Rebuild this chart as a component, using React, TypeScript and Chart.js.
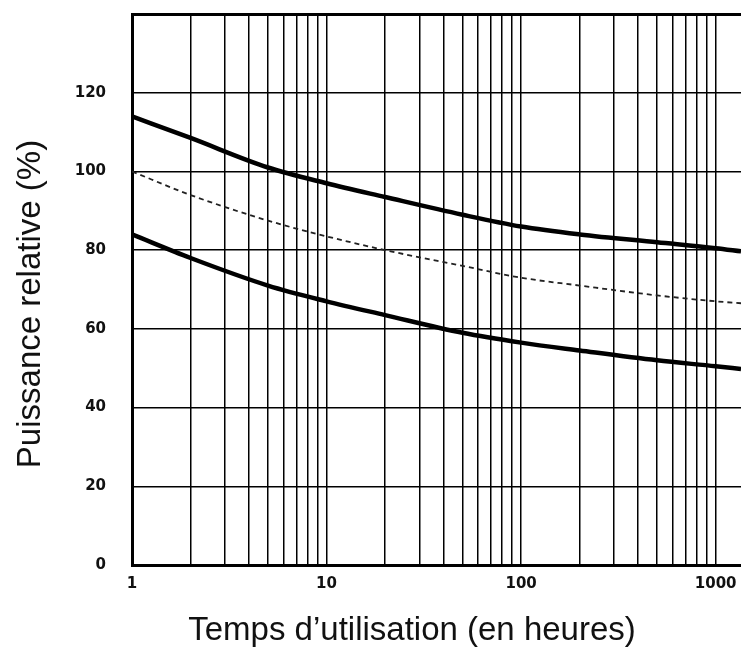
import React, { useEffect, useRef } from "react";
import { Chart, registerables } from "chart.js";

Chart.register(...registerables);

const hours = [1, 2, 5, 10, 20, 50, 100, 200, 500, 1000, 1350];
const upperCurve = [114, 108.5, 101, 97, 93.5, 89, 86, 84, 82, 80.5, 79.7];
const nominalCurve = [100, 94, 87.5, 83.5, 80, 76, 73, 71, 68.5, 67, 66.5];
const lowerCurve = [84, 78, 71, 67, 63.5, 59, 56.5, 54.5, 52, 50.5, 49.8];
const xTickValues = [1, 2, 3, 4, 5, 6, 7, 8, 9, 10, 20, 30, 40, 50, 60, 70, 80, 90, 100, 200, 300, 400, 500, 600, 700, 800, 900, 1000];
const xLabelled = [1, 10, 100, 1000];
const xTitle = "Temps d\u2019utilisation (en heures)";
const yTitle = "Puissance relative (%)";

const tickFont = { family: "'DejaVu Sans', sans-serif", size: 15, weight: "bold" };

export default function App() {
  const ref = useRef<HTMLCanvasElement | null>(null);
  useEffect(() => {
    if (!ref.current) return;
    const titles = {
      id: "titles",
      afterDraw(chart: any) {
        const ctx = chart.ctx;
        ctx.save();
        ctx.fillStyle = "#111";
        ctx.font = "33px 'Liberation Sans', Arial, sans-serif";
        ctx.textAlign = "center";
        ctx.textBaseline = "middle";
        ctx.fillText(xTitle, 412, 631);
        ctx.translate(31, 304);
        ctx.rotate(-Math.PI / 2);
        ctx.fillText(yTitle, 0, 0);
        ctx.restore();
      },
    };
    const chart = new Chart(ref.current, {
      type: "line",
      data: {
        labels: hours,
        datasets: [
          { data: upperCurve, borderColor: "#000", borderWidth: 4.5, pointRadius: 0, cubicInterpolationMode: "monotone" },
          { data: nominalCurve, borderColor: "#222", borderWidth: 1.8, borderDash: [5, 4], pointRadius: 0, cubicInterpolationMode: "monotone" },
          { data: lowerCurve, borderColor: "#000", borderWidth: 4.5, pointRadius: 0, cubicInterpolationMode: "monotone" },
        ].map((d) => ({ ...d, fill: false })) as any,
      },
      options: {
        animation: false,
        responsive: false,
        layout: { padding: { top: 14, right: 0, left: 0, bottom: 0 } },
        plugins: { legend: { display: false }, tooltip: { enabled: false } },
        scales: {
          x: {
            type: "logarithmic",
            min: 1,
            max: 1350,
            afterBuildTicks(axis: any) {
              axis.ticks = xTickValues.map((v) => ({ value: v }));
            },
            afterFit(axis: any) {
              axis.height = 87;
              axis.paddingLeft = 0;
              axis.paddingRight = 0;
            },
            ticks: {
              autoSkip: false,
              maxRotation: 0,
              padding: 10,
              color: "#111",
              font: tickFont,
              callback: (v: any) => {
                const n = Number(v);
                return xLabelled.includes(n) ? String(n) : "";
              },
            },
            grid: { color: "#000", lineWidth: 1.5, drawTicks: false },
            border: { display: true, color: "#000", width: 3 },
          },
          y: {
            type: "linear",
            min: 0,
            max: 140,
            afterFit(axis: any) {
              axis.width = 132;
              axis.paddingTop = 0;
              axis.paddingBottom = 0;
            },
            ticks: {
              stepSize: 20,
              padding: 26,
              color: "#111",
              font: tickFont,
              callback: (v: any) => (Number(v) === 140 ? "" : String(v)),
            },
            grid: {
              color: "#000",
              lineWidth: (c: any) => (c.tick && c.tick.value === 140 ? 3 : 1.5),
              drawTicks: false,
            },
            border: { display: true, color: "#000", width: 3 },
          },
        },
      } as any,
      plugins: [titles],
    });
    return () => chart.destroy();
  }, []);
  return (
    <div style={{ position: "fixed", left: 0, top: 0, width: 741, height: 652, background: "#fff" }}>
      <canvas ref={ref} width={741} height={652} style={{ width: 741, height: 652, display: "block" }} />
    </div>
  );
}
